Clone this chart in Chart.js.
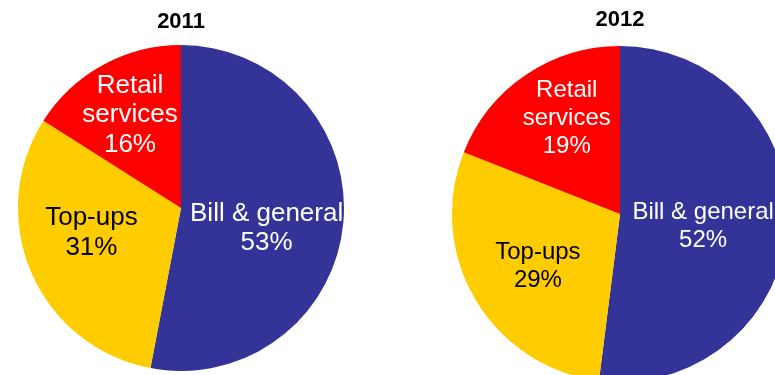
<!DOCTYPE html>
<html>
<head>
<meta charset="utf-8">
<script src="https://cdn.jsdelivr.net/npm/chart.js@4/dist/chart.umd.min.js"></script>
<style>
    html, body { margin: 0; padding: 0; background: #fff; overflow: hidden; }
    body { width: 775px; height: 375px; position: relative; }
    .pie-box { position: absolute; }
    #box2011 { left: 0; top: 0; width: 362px; height: 371px; }
    #box2012 { left: 440px; top: 0; width: 360px; height: 382px; }
</style>
</head>
<body>
<div class="pie-box" id="box2011"><canvas id="pie2011"></canvas></div>
<div class="pie-box" id="box2012"><canvas id="pie2012"></canvas></div>
<script>
// Shares of contacts by type, per year
const categories = ['Bill & general', 'Top-ups', 'Retail services'];
const labelLines = [['Bill & general'], ['Top-ups'], ['Retail', 'services']];
const share2011 = [53, 31, 16];
const share2012 = [52, 29, 19];

const sliceColors = ['#343498', '#FFCC00', '#FF0000'];
const textColors = ['#ffffff', '#000000', '#ffffff'];

// draws "name \n xx%" inside each slice
const sliceLabels = {
    id: 'sliceLabels',
    afterDatasetsDraw(chart, args, opts) {
        const ctx = chart.ctx;
        const meta = chart.getDatasetMeta(0);
        const values = chart.data.datasets[0].data;
        ctx.save();
        ctx.font = opts.size + 'px "Liberation Sans", Arial, sans-serif';
        ctx.textAlign = 'center';
        ctx.textBaseline = 'middle';
        meta.data.forEach((arc, i) => {
            const p = arc.getProps(['x', 'y', 'startAngle', 'endAngle', 'outerRadius'], true);
            const place = opts.place[i];
            const a = (p.startAngle + p.endAngle) / 2 + place[1] * Math.PI / 180;
            const r = p.outerRadius * place[0];
            const cx = p.x + r * Math.cos(a);
            const cy = p.y + r * Math.sin(a);
            const lines = labelLines[i].concat([values[i] + '%']);
            const top = cy - (lines.length - 1) * opts.lineHeight / 2;
            ctx.fillStyle = textColors[i];
            lines.forEach((t, k) => ctx.fillText(t, cx, top + k * opts.lineHeight));
        });
        ctx.restore();
    }
};

function makePie(canvasId, year, values, titlePad, labelOpts) {
    return new Chart(document.getElementById(canvasId), {
        type: 'pie',
        data: {
            labels: categories,
            datasets: [{
                data: values,
                backgroundColor: sliceColors,
                borderWidth: 0,
                hoverOffset: 0
            }]
        },
        options: {
            responsive: true,
            maintainAspectRatio: false,
            animation: false,
            layout: { padding: 0 },
            plugins: {
                legend: { display: false },
                tooltip: { enabled: false },
                title: {
                    display: true,
                    text: year,
                    color: '#000',
                    font: { size: 22, weight: 'bold', family: '"Liberation Sans", Arial, sans-serif' },
                    padding: titlePad
                },
                sliceLabels: labelOpts
            }
        },
        plugins: [sliceLabels]
    });
}

makePie('pie2011', '2011', share2011, { top: 8.5, bottom: 10.1 },
    { size: 26, lineHeight: 29.5, place: [[0.54, 8], [0.57, 8], [0.65, 0]] });
makePie('pie2012', '2012', share2012, { top: 6.3, bottom: 13.3 },
    { size: 24, lineHeight: 28, place: [[0.5, 4.6], [0.58, -2], [0.65, 5]] });
</script>
</body>
</html>
